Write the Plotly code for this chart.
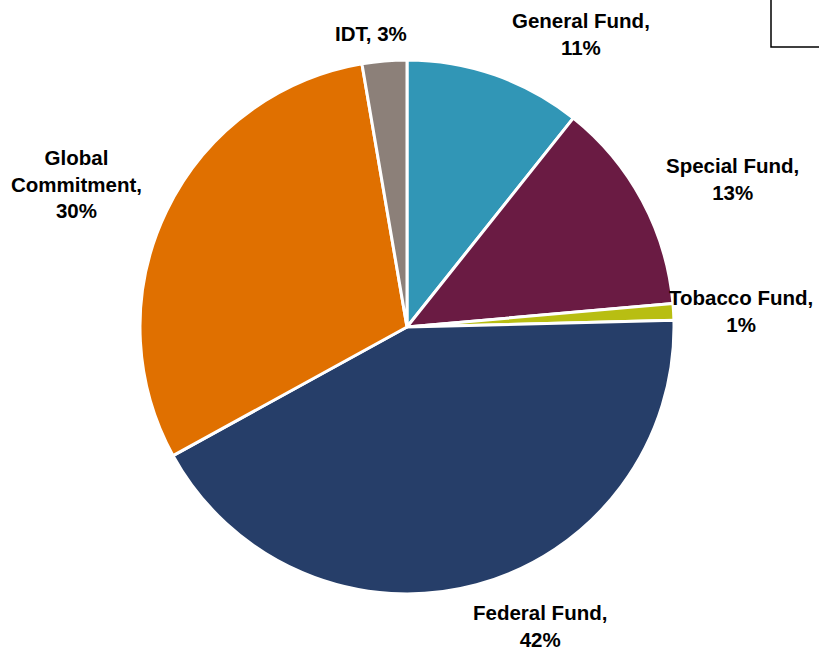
import plotly.graph_objects as go

# Data
categories = ["General Fund", "Special Fund", "Tobacco Fund", "Federal Fund", "Global Commitment", "IDT"]
values = [10.7, 12.9, 1.0, 42.4, 30.3, 2.7]
colors = ["#3196B6", "#6A1B43", "#B8BE12", "#263E69", "#E07000", "#8C8079"]

# label layout (text wrapping + positions in pixels)
label_lines = [
    "General Fund,<br>{p}",
    "Special Fund,<br>{p}",
    "Tobacco Fund,<br>{p}",
    "Federal Fund,<br>{p}",
    "Global<br>Commitment,<br>{p}",
    "IDT, {p}",
]
label_pos = [(581, 34), (732, 179), (741, 311), (540, 626), (76, 184), (371, 33)]

W, H = 819, 653
cx, cy, r = 407, 327, 267
FONT = "Liberation Sans, Arial, sans-serif"

fig = go.Figure()
fig.add_trace(go.Pie(
    labels=categories,
    values=values,
    sort=False,
    direction="clockwise",
    rotation=0,
    marker=dict(colors=colors, line=dict(color="white", width=3)),
    textinfo="none",
    hoverinfo="label+percent",
    showlegend=False,
    domain=dict(x=[(cx - r) / W, (cx + r) / W], y=[(H - cy - r) / H, (H - cy + r) / H]),
))

total = sum(values)
for cat, v, tmpl, (px, py) in zip(categories, values, label_lines, label_pos):
    pct = f"{round(v / total * 100):.0f}%"
    txt = tmpl.format(p=pct)
    txt = "<b>" + txt.replace("<br>", "</b><br><b>") + "</b>"
    fig.add_annotation(
        x=px / W, y=1 - py / H, xref="paper", yref="paper",
        text=txt, showarrow=False,
        xanchor="center", yanchor="middle", align="center",
        font=dict(family=FONT, size=20.5, color="#000000"),
    )

fig.add_shape(type="rect", xref="paper", yref="paper",
              x0=771 / W, x1=1.05, y0=1 - 47 / H, y1=1.05,
              line=dict(color="black", width=1.5), fillcolor="rgba(0,0,0,0)")

fig.update_layout(
    width=W, height=H,
    margin=dict(l=0, r=0, t=0, b=0),
    paper_bgcolor="white", plot_bgcolor="white",
    font=dict(family=FONT),
)

fig.write_html("out.html")
